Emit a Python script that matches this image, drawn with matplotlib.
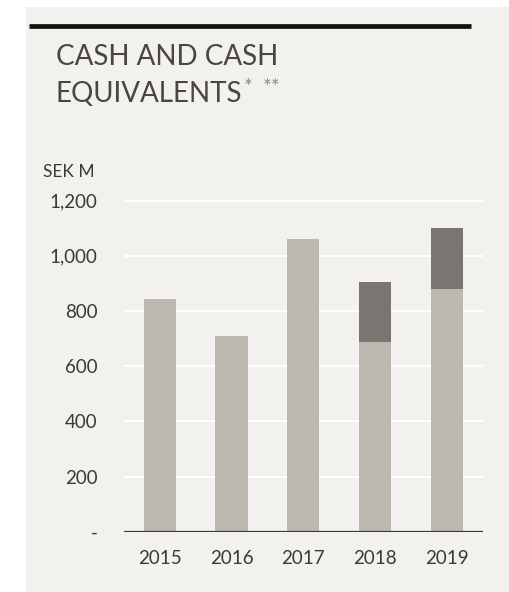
import matplotlib
matplotlib.use("Agg")
import matplotlib.pyplot as plt
from matplotlib.patches import Rectangle
from matplotlib.lines import Line2D

# SEK M, cash and cash equivalents per year
years = ["2015", "2016", "2017", "2018", "2019"]
cash_base = [842, 710, 1060, 687, 880]
cash_extra = [0, 0, 0, 219, 219]
y_ticks = [0, 200, 400, 600, 800, 1000, 1200]
y_labels = ["-", "200", "400", "600", "800", "1,000", "1,200"]

BG = "#f2f1ed"
LIGHT = "#bbb8b0"
DARK = "#7a7570"
TEXT = "#3b3935"
TITLE = "#48463f"

plt.rcParams["font.family"] = ["Lato", "DejaVu Sans"]

fig = plt.figure(figsize=(5.10, 5.92), dpi=100)
fig.patch.set_facecolor("white")
# panel behind everything
fig.patches.append(Rectangle((26 / 510, 0), 1, 1 - 7 / 592, transform=fig.transFigure,
                             facecolor=BG, edgecolor="none", zorder=-5))
fig.lines.append(Line2D([29 / 510, 471 / 510], [1 - 25.5 / 592] * 2, transform=fig.transFigure,
                        color="#111111", lw=3.4, solid_capstyle="butt"))

t1 = fig.text(56 / 510, 1 - 65 / 592, "CASH AND CASH", fontsize=20, color=TITLE,
              va="baseline")
t2 = fig.text(56 / 510, 1 - 102 / 592, "EQUIVALENTS", fontsize=20, color=TITLE,
              va="baseline")
fig.canvas.draw()
bb = t2.get_window_extent()
x_end = bb.x1 / fig.bbox.width
fig.text(x_end + 1 / 510, 1 - 94 / 592, "*", fontsize=15, color="#8d8983", va="baseline")
fig.text(x_end + 20 / 510, 1 - 94 / 592, "**", fontsize=15, color="#8d8983", va="baseline")
fig.text(43 / 510, 1 - 177 / 592, "SEK M", fontsize=12.5, color=TEXT, va="baseline")

ax = fig.add_axes([124 / 510, 1 - 531.7 / 592, 358.7 / 510, 345 / 592])
ax.patch.set_alpha(0)
x = range(len(years))
ax.bar(x, cash_base, width=0.45, color=LIGHT, zorder=2)
ax.bar(x, cash_extra, width=0.45, bottom=cash_base, color=DARK, zorder=2)

ax.set_xlim(-0.5, 4.5)
ax.set_ylim(0, 1250)
ax.set_yticks(y_ticks)
ax.set_yticklabels(y_labels)
ax.set_xticks(list(x))
ax.set_xticklabels(years)
for yv in y_ticks[1:]:
    ax.axhline(yv, color="white", lw=1.6, zorder=1)
ax.axhline(0, color=TEXT, lw=1.6, zorder=3)
for s in ax.spines.values():
    s.set_visible(False)
ax.tick_params(axis="both", length=0, colors=TEXT, labelsize=13.5)
ax.tick_params(axis="y", pad=19)
ax.tick_params(axis="x", pad=13)

fig.savefig("out.png", dpi=100, facecolor=fig.get_facecolor())
